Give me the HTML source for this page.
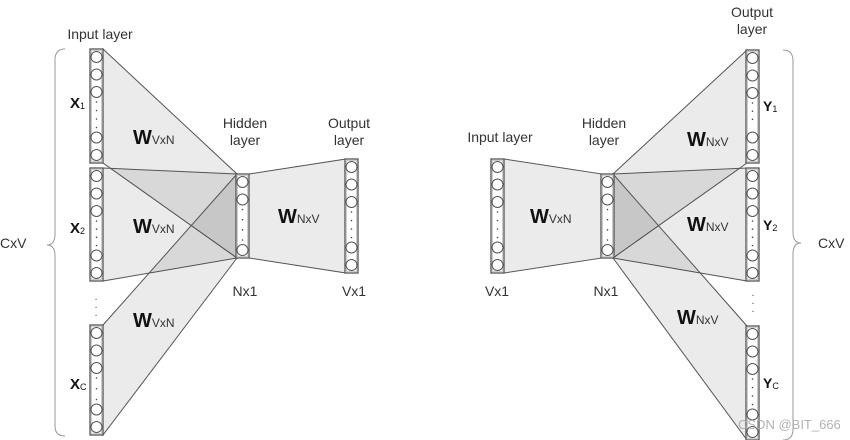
<!DOCTYPE html>
<html><head><meta charset="utf-8"><style>
html,body{margin:0;padding:0;background:#fff;width:850px;height:440px;overflow:hidden}
svg{display:block;font-family:"Liberation Sans",sans-serif}
</style></head><body>
<svg id="s" width="850" height="440" viewBox="0 0 850 440" xmlns="http://www.w3.org/2000/svg">
<g id="tr" fill="#000" fill-opacity="0.08" stroke="#555" stroke-width="1">
<!-- left -->
<polygon points="103,49 237,174 237,258 103,163"/>
<polygon points="103,168 237,174 237,258 103,281"/>
<polygon points="103,325 237,174 237,258 103,435"/>
<polygon points="249,174 346,159 346,273 249,258"/>
<!-- right -->
<polygon points="504,159 602,174 602,258 504,273"/>
<polygon points="613,174 747,50 747,163 613,258"/>
<polygon points="613,174 747,168 747,281 613,258"/>
<polygon points="613,174 747,326 747,440 613,258"/>
</g>
<g id="cols"></g>
<g fill="none" stroke="#999" stroke-width="1">
<path d="M65,49 Q55,49 55,60 L55,234 Q55,245 47,245 Q55,245 55,256 L55,426 Q55,436 65,436"/>
<path d="M783,50 Q793,50 793,61 L793,232 Q793,243 801,243 Q793,243 793,254 L793,429 Q793,440 783,440"/>
</g>
<g font-size="14" fill="#333">
<text x="100" y="39" text-anchor="middle">Input layer</text>
<text x="0" y="248">CxV</text>
<text x="245" y="128" text-anchor="middle">Hidden</text>
<text x="245" y="145" text-anchor="middle">layer</text>
<text x="349" y="128" text-anchor="middle">Output</text>
<text x="349" y="145" text-anchor="middle">layer</text>
<text x="245" y="296" text-anchor="middle">Nx1</text>
<text x="354" y="296" text-anchor="middle">Vx1</text>
<text x="500" y="142" text-anchor="middle">Input layer</text>
<text x="604" y="128" text-anchor="middle">Hidden</text>
<text x="604" y="145" text-anchor="middle">layer</text>
<text x="752" y="17" text-anchor="middle">Output</text>
<text x="752" y="34" text-anchor="middle">layer</text>
<text x="497" y="296" text-anchor="middle">Vx1</text>
<text x="606" y="296" text-anchor="middle">Nx1</text>
<text x="818" y="248">CxV</text>
</g>
<g fill="#111">
<text x="70" y="108" font-size="15" font-weight="bold">X<tspan font-size="9" font-weight="normal" dy="1">1</tspan></text>
<text x="70" y="233" font-size="15" font-weight="bold">X<tspan font-size="9" font-weight="normal" dy="1">2</tspan></text>
<text x="70" y="389" font-size="15" font-weight="bold">X<tspan font-size="9" font-weight="normal" dy="1">C</tspan></text>
<text x="763" y="111" font-size="14" font-weight="bold">Y<tspan font-size="9" font-weight="normal" dy="1">1</tspan></text>
<text x="763" y="230" font-size="14" font-weight="bold">Y<tspan font-size="9" font-weight="normal" dy="1">2</tspan></text>
<text x="763" y="388" font-size="14" font-weight="bold">Y<tspan font-size="9" font-weight="normal" dy="1">C</tspan></text>
</g>
<g fill="#111">
<text x="133" y="144" font-size="20" font-weight="bold">W<tspan font-size="12" font-weight="normal" fill="#333">VxN</tspan></text>
<text x="133" y="233" font-size="20" font-weight="bold">W<tspan font-size="12" font-weight="normal" fill="#333">VxN</tspan></text>
<text x="133" y="327" font-size="20" font-weight="bold">W<tspan font-size="12" font-weight="normal" fill="#333">VxN</tspan></text>
<text x="278" y="223" font-size="20" font-weight="bold">W<tspan font-size="12" font-weight="normal" fill="#333">NxV</tspan></text>
<text x="530" y="223" font-size="20" font-weight="bold">W<tspan font-size="12" font-weight="normal" fill="#333">VxN</tspan></text>
<text x="687" y="146" font-size="20" font-weight="bold">W<tspan font-size="12" font-weight="normal" fill="#333">NxV</tspan></text>
<text x="687" y="231" font-size="20" font-weight="bold">W<tspan font-size="12" font-weight="normal" fill="#333">NxV</tspan></text>
<text x="677" y="324" font-size="20" font-weight="bold">W<tspan font-size="12" font-weight="normal" fill="#333">NxV</tspan></text>
</g>
<g fill="#333" font-size="10">
<text x="96" y="302" text-anchor="middle">·</text><text x="96" y="310" text-anchor="middle">·</text><text x="96" y="318" text-anchor="middle">·</text>
<text x="753" y="298" text-anchor="middle">·</text><text x="753" y="306" text-anchor="middle">·</text><text x="753" y="314" text-anchor="middle">·</text>
</g>
<text x="738" y="429" font-size="13" fill="#aaa" fill-opacity="0.9">CSDN @BIT_666</text>
</svg>
<script>
var cols=[[90,49,163,3,2],[90,168,281,3,2],[90,325,435,3,2],[236,174,258,2,1],[345,159,273,3,2],
[491,159,273,3,2],[601,174,258,2,1],[746,50,163,3,2],[746,168,281,3,2],[746,326,440,3,2]];
var h='';
cols.forEach(function(c){var x=c[0],y1=c[1],y2=c[2],w=13,cx=x+w/2,sp=17.5;
h+='<rect x="'+x+'" y="'+y1+'" width="'+w+'" height="'+(y2-y1)+'" fill="#fff" stroke="#555" stroke-width="1.3"/>';
h+='<rect x="'+(x+1.5)+'" y="'+(y1+1.5)+'" width="'+(w-3)+'" height="'+(y2-y1-3)+'" fill="none" stroke="#aaa" stroke-width="0.6"/>';
var t=[],i;for(i=0;i<c[3];i++)t.push(y1+8+i*sp);for(i=0;i<c[4];i++)t.push(y2-8-i*sp);
t.forEach(function(cy){h+='<circle cx="'+cx+'" cy="'+cy+'" r="5.5" fill="#fff" stroke="#555" stroke-width="1"/>';});
var a=y1+8+(c[3]-1)*sp+10,b=y2-8-(c[4]-1)*sp-10;
for(var d=a;d<=b;d+=(b-a)/Math.max(1,Math.round((b-a)/9))){h+='<circle cx="'+cx+'" cy="'+d+'" r="0.8" fill="#444"/>';if(b-a<1)break;}
});
document.getElementById('cols').innerHTML=h;
</script>
</body></html>
